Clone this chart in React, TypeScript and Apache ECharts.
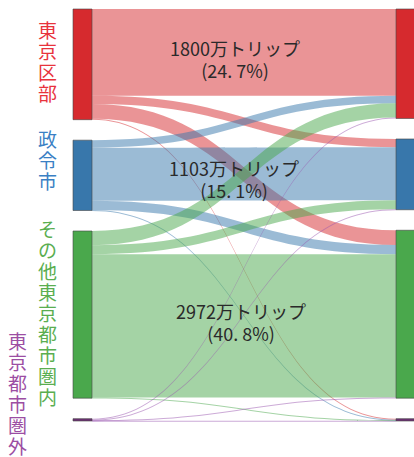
import React, { useEffect, useRef } from "react";
import * as echarts from "echarts";

// Regions (origin = left column, destination = right column)
const regions = ["東京区部", "政令市", "その他東京都市圏内", "東京都市圏外"];
// flows[origin][destination], 万トリップ
const flowsFromTokyo23 = [1800, 170, 305, 20];
const flowsFromSeirei = [155, 1103, 190, 10];
const flowsFromOther = [295, 185, 2972, 15];
const flowsFromOutside = [20, 10, 15, 3];
const flows = [flowsFromTokyo23, flowsFromSeirei, flowsFromOther, flowsFromOutside];
// Labels shown on the within-region flows
const shareLabels = ["(24. 7%)", "(15. 1%)", "(40. 8%)", ""];
const showShare = [true, true, true, false];

const nodeColors = ["#d62a2e", "#3877ab", "#4aa84c", "#6d2f73"];
const linkColors = ["#d62a2e", "#3877ab", "#4aa84c", "#9a56b0"];
const labelColors = ["#e8333c", "#3a80c4", "#5aae50", "#9c4ea3"];
const labelOffsets = [[0, -3], [0, -16], [0, -2], [-30, -27]];
const edgeLabelOffsets = [[-9, 7], [-10, 5], [-3, -4], [0, 0]];

const destName = (r: string) => r + "（着）";

export default function App() {
  const ref = useRef<HTMLDivElement>(null);
  useEffect(() => {
    if (!ref.current) return;
    const chart = echarts.init(ref.current, undefined, { renderer: "svg" });

    const nodes: any[] = [];
    regions.forEach((r, i) => {
      nodes.push({
        name: r,
        itemStyle: { color: nodeColors[i] },
        label: {
          show: true,
          color: labelColors[i],
          offset: labelOffsets[i],
        },
      });
    });
    regions.forEach((r, i) => {
      nodes.push({
        name: destName(r),
        itemStyle: { color: nodeColors[i] },
        label: { show: false },
      });
    });

    const links: any[] = [];
    flows.forEach((row, i) => {
      row.forEach((v, j) => {
        const link: any = {
          source: regions[i],
          target: destName(regions[j]),
          value: v,
          lineStyle: { color: linkColors[i], opacity: 0.5 },
        };
        if (i === j && showShare[i]) {
          link.edgeLabel = {
            show: true,
            offset: edgeLabelOffsets[i],
          };
        }
        links.push(link);
      });
    });

    chart.setOption({
      animation: false,
      series: [
        {
          type: "sankey",
          left: 73,
          top: 9,
          width: 342,
          height: 412,
          nodeWidth: 19,
          nodeGap: 20.5,
          layoutIterations: 0,
          draggable: false,
          emphasis: { disabled: true },
          data: nodes,
          links: links,
          itemStyle: {
            borderColor: "rgba(70,70,70,0.6)",
            borderWidth: 1,
          },
          lineStyle: {
            opacity: 0.5,
            curveness: 0.5,
          },
          label: {
            position: "left",
            distance: 25,
            fontFamily: "Noto Sans CJK JP",
            fontSize: 19,
            lineHeight: 21,
            align: "center",
            formatter: (p: any) => String(p.name).split("").join("\n"),
          },
          edgeLabel: {
            show: false,
            fontFamily: "Noto Sans CJK JP",
            fontSize: 18,
            lineHeight: 22,
            color: "#2a2a2a",
            align: "center",
            formatter: (p: any) => {
              const d = p.data || {};
              const i = regions.indexOf(d.source);
              const j = regions.map(destName).indexOf(d.target);
              if (i < 0 || i !== j || !showShare[i]) return "";
              return `${flows[i][j]}万トリップ\n${shareLabels[i]}`;
            },
          },
        },
      ],
    });
    return () => chart.dispose();
  }, []);
  return (
    <div
      ref={ref}
      style={{ position: "absolute", left: 0, top: 0, width: 414, height: 457 }}
    />
  );
}
